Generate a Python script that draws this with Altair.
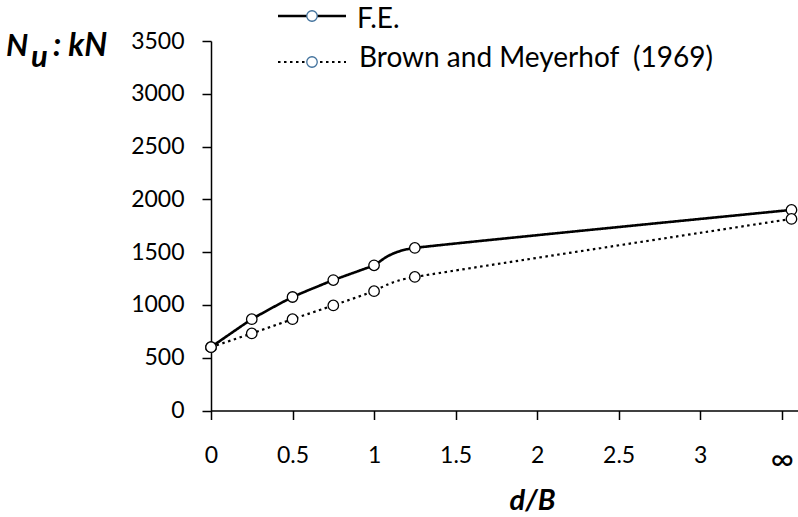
import altair as alt
import pandas as pd

# d/B ratios; the last entry stands for d/B = infinity (drawn just past the 3.5 tick)
d_over_b = [0, 0.25, 0.5, 0.75, 1.0, 1.25, 3.56]
fe_load = [600, 865, 1075, 1235, 1375, 1540, 1900]
bm_load = [600, 730, 865, 995, 1130, 1265, 1815]
series_names = ["F.E.", "Brown and Meyerhof\u00a0 (1969)"]

x_ticks = [0, 0.5, 1, 1.5, 2, 2.5, 3, 3.5]
y_ticks = [0, 500, 1000, 1500, 2000, 2500, 3000, 3500]

FONT = "Lato"

rows = []
for name, vals in zip(series_names, [fe_load, bm_load]):
    for x, v in zip(d_over_b, vals):
        rows.append({"dB": x, "Nu": v, "series": name})
df = pd.DataFrame(rows)

x_enc = alt.X(
    "dB:Q",
    scale=alt.Scale(domain=[0, 3.6], nice=False, zero=False),
    axis=alt.Axis(
        values=x_ticks,
        labelExpr="datum.value == 3.5 ? '∞' : format(datum.value, '')",
        labelFontSize={"condition": {"test": "datum.value == 3.5", "value": 32}, "value": 23},
        labelFlush=False,
        labelPadding=25,
        title="d/B",
        titleFont=FONT,
        titleFontSize=29,
        titleFontStyle="italic",
        titleFontWeight="bold",
        titleX=321,
        titleY=99,
        titleBaseline="alphabetic",
        titleAlign="center",
    ),
)
y_enc = alt.Y(
    "Nu:Q",
    scale=alt.Scale(domain=[0, 3500], nice=False),
    axis=alt.Axis(values=y_ticks, format="d", labelFlush=False, labelPadding=18, title=None),
)
dash = alt.StrokeDash(
    "series:N",
    scale=alt.Scale(domain=series_names, range=[[1, 0], [2.5, 3.5]]),
    legend=None,
)
width_enc = alt.StrokeWidth(
    "series:N",
    scale=alt.Scale(domain=series_names, range=[2.6, 2.2]),
    legend=None,
)

base = alt.Chart(df)
lines = base.mark_line(color="black", interpolate="cardinal", tension=0.6, strokeCap="butt").encode(
    x=x_enc, y=y_enc, strokeDash=dash, strokeWidth=width_enc, detail="series:N"
)
points = base.mark_point(
    shape="circle", filled=True, fill="white", stroke="black", strokeWidth=1.3, size=110, opacity=1
).encode(x="dB:Q", y="Nu:Q", detail="series:N")

one = alt.Data(values=[{}])

# y-axis caption N_u : kN with a lowered subscript
cap_style = dict(font=FONT, fontStyle="italic", fontWeight="bold",
                 align="left", baseline="alphabetic", color="black")
cap_n = alt.Chart(one).mark_text(text="N", fontSize=31, **cap_style).encode(x=alt.value(-205), y=alt.value(15))
cap_u = alt.Chart(one).mark_text(text="u", fontSize=31, **cap_style).encode(x=alt.value(-180), y=alt.value(26))
cap_kn = alt.Chart(one).mark_text(text=":\u00a0kN", fontSize=32, **cap_style).encode(
    x=alt.value(-158), y=alt.value(15)
)

# legend rows: line sample, marker, label
legend_layers = []
for name, ly, ty, tx, sw, sd in [
    (series_names[0], -25, -21, 146, 2.6, [1, 0]),
    (series_names[1], 21, 18, 148, 2.2, [2.5, 3.5]),
]:
    legend_layers.append(
        alt.Chart(one).mark_rule(color="black", strokeWidth=sw, strokeDash=sd, strokeCap="butt")
        .encode(x=alt.value(67), x2=alt.value(135), y=alt.value(ly))
    )
    legend_layers.append(
        alt.Chart(one).mark_point(shape="circle", filled=True, fill="white", stroke="#41719C",
                                  strokeWidth=1.3, size=110, opacity=1)
        .encode(x=alt.value(101), y=alt.value(ly))
    )
    legend_layers.append(
        alt.Chart(one).mark_text(text=name, font=FONT, fontSize=28, align="left",
                                 baseline="middle", color="black")
        .encode(x=alt.value(tx), y=alt.value(ty))
    )

chart = alt.layer(lines, points, cap_n, cap_u, cap_kn, *legend_layers).properties(
    width=587,
    height=369.5,
    autosize=alt.AutoSizeParams(type="none"),
    padding={"left": 211, "top": 41, "right": 0, "bottom": 106},
).configure_view(stroke=None).configure_axis(
    grid=False,
    domainColor="black",
    domainWidth=1.5,
    tickColor="black",
    tickWidth=1.5,
    tickSize=9,
    labelFont=FONT,
    labelFontSize=23,
    labelColor="black",
).configure_axisY(domain=True)

chart.save("out.html", embed_options={"renderer": "svg", "actions": False})
